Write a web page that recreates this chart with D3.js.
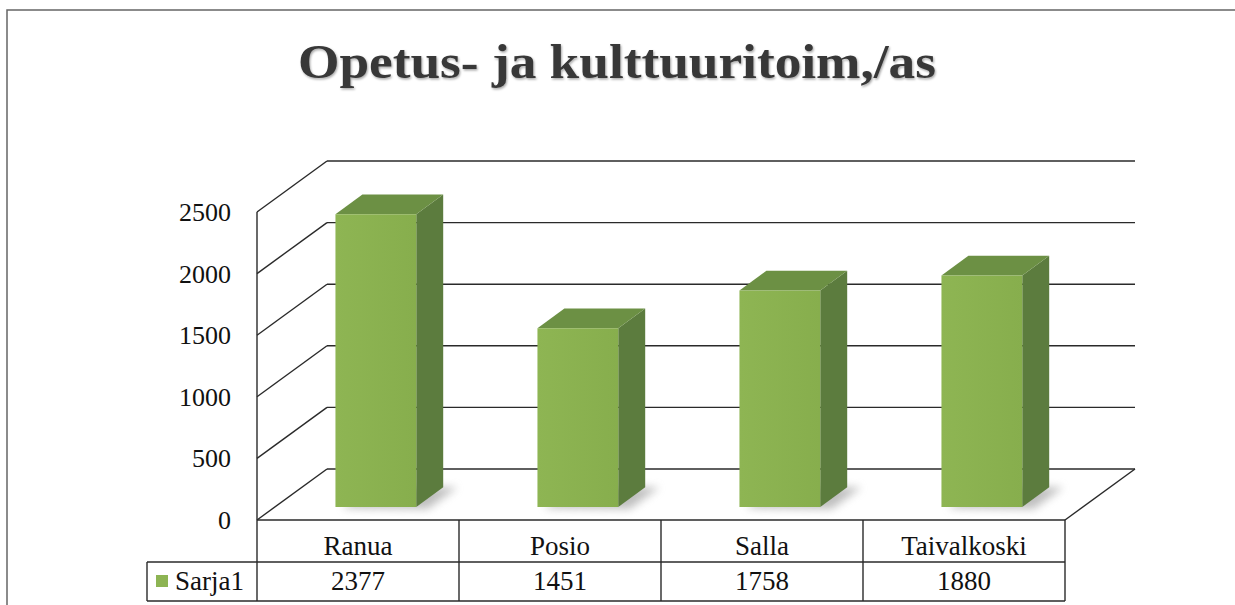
<!DOCTYPE html>
<html>
<head>
<meta charset="utf-8">
<script src="https://cdn.jsdelivr.net/npm/d3@7"></script>
<style>
  html, body { margin: 0; padding: 0; background: #fff; }
  svg { display: block; }
</style>
</head>
<body>
<svg id="chart" width="1235" height="605"></svg>
<script>
// ---- data ----
const title = "Opetus- ja kulttuuritoim,/as";
const categories = ["Ranua", "Posio", "Salla", "Taivalkoski"];
const values = [2377, 1451, 1758, 1880];
const seriesName = "Sarja1";
const yTicks = [0, 500, 1000, 1500, 2000, 2500];

// ---- layout ----
const W = 1235, H = 605;
const plot = { left: 257, right: 1065, top: 212, bottom: 520 };
const depth = { dx: 70, dy: -51 };
const barZ0 = 0.255, barZ1 = 0.64;
const tableRow1 = 562, tableBottom = 601, legendLeft = 147;
const serif = "'Liberation Serif', 'DejaVu Serif', serif";

const svg = d3.select("#chart");

const x = d3.scaleBand().domain(categories)
  .range([plot.left, plot.right]).paddingInner(0.6).paddingOuter(0.3);
const xCell = d3.scaleBand().domain(categories).range([plot.left, plot.right]).padding(0);
const y = d3.scaleLinear().domain([0, 2500]).range([plot.bottom, plot.top]);

const P = (px, py, z) => [px + depth.dx * z, py + depth.dy * z];

const defs = svg.append("defs");
const blur = defs.append("filter").attr("id", "blur").attr("x", "-50%").attr("y", "-50%").attr("width", "200%").attr("height", "200%");
blur.append("feGaussianBlur").attr("stdDeviation", 4);
const tblur = defs.append("filter").attr("id", "tshadow").attr("x", "-10%").attr("y", "-10%").attr("width", "120%").attr("height", "130%");
tblur.append("feDropShadow").attr("dx", 1).attr("dy", 1.5).attr("stdDeviation", 1).attr("flood-color", "#000").attr("flood-opacity", 0.35);
const gFront = defs.append("linearGradient").attr("id", "gfront").attr("x1", 0).attr("x2", 1).attr("y1", 0).attr("y2", 0);
gFront.append("stop").attr("offset", "0%").attr("stop-color", "#8eb553");
gFront.append("stop").attr("offset", "100%").attr("stop-color", "#87ae4d");

// outer frame
svg.append("path").attr("d", `M7,${H} L7,10 L${W},10`).attr("fill", "none")
  .attr("stroke", "#666").attr("stroke-width", 1.5);

// title
svg.append("text").attr("x", 298).attr("y", 78)
  .attr("font-family", serif)
  .attr("font-weight", "bold").attr("font-size", 48)
  .attr("textLength", 638).attr("lengthAdjust", "spacingAndGlyphs")
  .attr("fill", "#383838").attr("filter", "url(#tshadow)")
  .text(title);

const line = (a, b) => svg.append("line")
  .attr("x1", a[0]).attr("y1", a[1]).attr("x2", b[0]).attr("y2", b[1])
  .attr("stroke", "#2a2a2a").attr("stroke-width", 1.4);

// back wall gridlines + side wall diagonals
yTicks.forEach(t => {
  const yy = y(t);
  line(P(plot.left, yy, 1), P(plot.right, yy, 1));
  line([plot.left, yy], P(plot.left, yy, 1));
});
// floor
line([plot.left, plot.bottom], [plot.right, plot.bottom]);
line([plot.right, plot.bottom], P(plot.right, plot.bottom, 1));
// front vertical axis line (through table)
line([plot.left, y(2500)], [plot.left, tableBottom]);

// y tick labels
svg.append("g").selectAll("text").data(yTicks).join("text")
  .attr("x", 231).attr("y", d => y(d) + 9)
  .attr("text-anchor", "end")
  .attr("font-family", serif)
  .attr("font-size", 26).attr("fill", "#111")
  .text(d => d);

// bars
const bars = svg.append("g");
categories.forEach((c, i) => {
  const v = values[i];
  const x0 = x(c), x1 = x(c) + x.bandwidth();
  const yb = y(0), yt = y(v);
  // shadow
  const s0 = P(x0 + 8, yb, barZ0 - 0.02), s1 = P(x1 + 14, yb, barZ0 - 0.04), s2 = P(x1 + 14, yb, barZ1), s3 = P(x0 + 8, yb, barZ1);
  bars.append("polygon").attr("points", [s0, s1, s2, s3].map(p => p.join(",")).join(" "))
    .attr("fill", "#8a8a8a").attr("opacity", 0.55).attr("filter", "url(#blur)");
  const fa = P(x0, yt, barZ0), fb = P(x1, yt, barZ0), fc = P(x1, yb, barZ0), fd = P(x0, yb, barZ0);
  const ba = P(x0, yt, barZ1), bb = P(x1, yt, barZ1), bc = P(x1, yb, barZ1);
  bars.append("polygon").attr("points", [fb, bb, bc, fc].map(p => p.join(",")).join(" "))
    .attr("fill", "#5c7c3e");
  bars.append("polygon").attr("points", [fa, ba, bb, fb].map(p => p.join(",")).join(" "))
    .attr("fill", "#6c9044");
  bars.append("polygon").attr("points", [fa, fb, fc, fd].map(p => p.join(",")).join(" "))
    .attr("fill", "url(#gfront)");
});

// data table
line([legendLeft, tableRow1], [plot.right, tableRow1]);
line([legendLeft, tableBottom], [plot.right, tableBottom]);
line([legendLeft, tableRow1], [legendLeft, tableBottom]);
categories.forEach(c => {
  line([xCell(c) + xCell.bandwidth(), plot.bottom], [xCell(c) + xCell.bandwidth(), tableBottom]);
});
svg.append("g").selectAll("text").data(categories).join("text")
  .attr("x", d => xCell(d) + xCell.bandwidth() / 2).attr("y", 555)
  .attr("text-anchor", "middle").attr("font-family", serif)
  .attr("font-size", 27).attr("fill", "#111").text(d => d);
svg.append("g").selectAll("text").data(values).join("text")
  .attr("x", (d, i) => xCell(categories[i]) + xCell.bandwidth() / 2).attr("y", 590)
  .attr("text-anchor", "middle").attr("font-family", serif)
  .attr("font-size", 27).attr("fill", "#111").text(d => d);
// legend key
svg.append("rect").attr("x", 156).attr("y", 575).attr("width", 12).attr("height", 12)
  .attr("fill", "#8db453");
svg.append("text").attr("x", 175).attr("y", 590).attr("font-family", serif)
  .attr("font-size", 27).attr("fill", "#111").text(seriesName);
</script>
</body>
</html>
